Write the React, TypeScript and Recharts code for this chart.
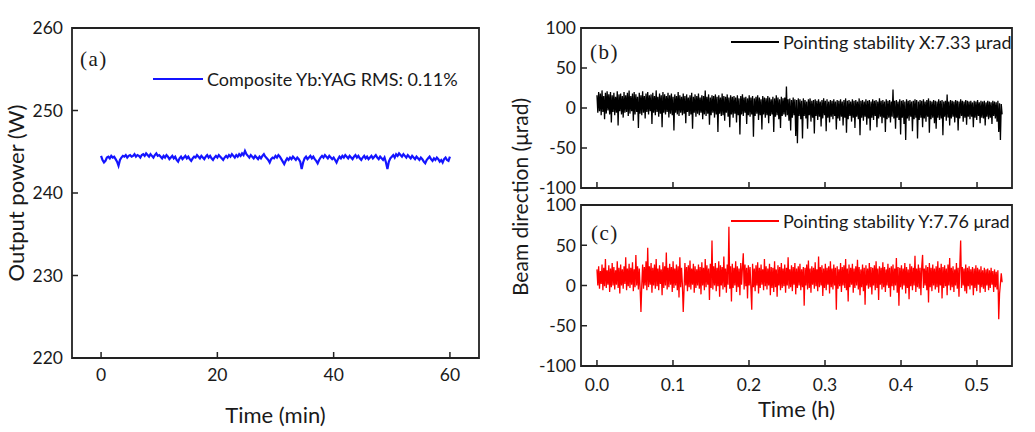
import React from 'react';
import { LineChart, Line, XAxis, YAxis, ReferenceArea, Legend } from 'recharts';

// ---------- data ----------
const POWER_STEP_MIN = 0.25;
const powerW = [
  244.5, 244.0, 243.7, 243.9, 244.3, 244.4, 244.2, 244.5, 244.3, 244.4, 244.1, 243.8, 243.3, 244.0, 244.3, 244.5, 244.4, 244.6, 244.3, 244.5,
  244.6, 244.4, 244.5, 244.7, 244.4, 244.6, 244.5, 244.3, 244.6, 244.7, 244.5, 244.8, 244.6, 244.4, 244.7, 244.5, 244.3, 244.6, 244.8, 244.5,
  244.6, 244.4, 244.2, 244.5, 244.3, 244.6, 244.4, 244.1, 244.3, 244.5, 244.2, 244.4, 244.0, 243.8, 244.2, 244.4, 244.1, 244.3, 244.5, 244.2,
  244.4, 244.1, 243.9, 244.2, 244.4, 244.3, 244.6, 244.4, 244.2, 244.5, 244.3, 244.1, 244.4, 244.6, 244.3, 244.5, 244.2, 244.0, 244.3, 244.5,
  244.3, 244.6, 244.4, 244.2, 244.0, 244.3, 244.5, 244.3, 244.6, 244.4, 244.7, 244.5, 244.3, 244.6, 244.4, 244.7, 244.5, 244.8, 244.6, 245.1,
  244.7, 244.5, 244.3, 244.6, 244.4, 244.2, 244.5, 244.3, 244.1, 244.4, 244.2, 244.5, 244.7, 244.4, 244.2, 244.0, 243.7, 244.1, 244.3, 244.2,
  244.5, 244.3, 244.6, 244.4, 244.1, 243.8, 243.5, 243.9, 244.2, 244.0, 244.3, 244.1, 244.4, 244.2, 244.0, 244.3, 244.1, 243.8, 242.9, 243.7,
  244.2, 244.4, 244.1, 244.3, 244.5, 244.2, 244.4, 244.1, 243.9, 243.6, 244.0, 244.3, 244.5, 244.3, 244.6, 244.4, 244.2, 244.5, 244.3, 244.1,
  244.3, 244.0, 243.7, 244.1, 244.4, 244.2, 244.5, 244.3, 244.6, 244.4, 244.2, 244.5, 244.3, 244.1, 244.4, 244.6, 244.3, 244.5, 244.2, 244.0,
  244.3, 244.5, 244.2, 244.4, 244.1, 244.3, 244.5, 244.2, 244.4, 244.6, 244.3, 244.1, 244.4, 244.2, 244.0, 244.3, 243.7, 242.9, 243.8, 244.2,
  244.4, 244.6, 244.3, 244.7, 244.5, 244.8, 244.6, 244.4, 244.7, 244.5, 244.3, 244.6, 244.4, 244.2, 244.5, 244.3, 244.1, 244.4, 244.2, 244.0,
  244.3, 244.1, 243.8, 243.6, 244.0, 244.2, 244.4, 244.1, 243.9, 244.2, 244.0, 244.3, 244.1, 243.8, 244.0, 243.7, 244.1, 244.3, 244.0, 243.9,
  244.4,
];

const DIR_STEP_H = 0.0011127;
const pointingX = [
  16, -6, 20, -4, 18, -9, 22, -5, 15, -14, 19, -7, 21, -3, 17, -8, 20, -18, 16, -5,
  19, -9, 14, -6, 21, -22, 17, -4, 18, -8, 15, -12, 20, -6, 16, -5, 19, -10, 22, -7,
  15, -4, 18, -16, 20, -8, 17, -5, 14, -25, 19, -7, 16, -9, 21, -6, 15, -13, 18, -5,
  20, -8, 16, -4, 17, -20, 19, -6, 15, -9, 22, -5, 14, -11, 18, -7, 16, -24, 20, -6,
  17, -8, 15, -5, 19, -12, 16, -7, 18, -9, 14, -28, 17, -6, 15, -8, 20, -10, 16, -6,
  14, -9, 18, -7, 15, -19, 17, -5, 13, -10, 16, -8, 19, -26, 14, -6, 17, -11, 15, -7,
  18, -9, 13, -6, 16, -14, 15, -8, 22, -10, 14, -7, 17, -21, 13, -9, 16, -6, 15, -12,
  17, -8, 14, -30, 16, -7, 13, -10, 18, -9, 15, -16, 14, -6, 17, -11, 13, -24, 16, -8,
  14, -12, 15, -7, 13, -18, 16, -9, 12, -33, 15, -8, 17, -10, 13, -6, 14, -20, 12, -9,
  16, -11, 13, -8, 15, -36, 12, -10, 14, -7, 16, -15, 13, -9, 11, -27, 15, -8, 13, -12,
  12, -9, 15, -19, 13, -10, 11, -8, 14, -30, 12, -11, 16, -9, 13, -14, 11, -25, 14, -10,
  12, -8, 13, -11, 27, -9, 11, -16, 12, -28, 10, -12, 13, -9, 11, -35, 10, -44, 12, -10,
  11, -14, 9, -38, 12, -10, 10, -13, 8, -26, 11, -9, 12, -17, 9, -12, 10, -32, 11, -10,
  9, -15, 11, -11, 8, -23, 10, -13, 12, -9, 9, -29, 11, -12, 8, -18, 10, -11, 9, -14,
  11, -10, 8, -27, 10, -13, 9, -16, 11, -11, 8, -22, 10, -12, 12, -31, 9, -14, 10, -10,
  8, -17, 11, -12, 9, -25, 10, -11, 8, -14, 12, -34, 9, -12, 10, -16, 8, -11, 11, -21,
  9, -13, 10, -28, 8, -12, 11, -15, 9, -10, 10, -24, 8, -13, 12, -11, 9, -19, 10, -12,
  8, -30, 11, -14, 9, -12, 10, -18, 8, -11, 23, -13, 9, -26, 10, -12, 8, -15, 11, -33,
  9, -12, 10, -20, 8, -40, 11, -13, 9, -16, 10, -11, 8, -29, 9, -14, 11, -12, 10, -38,
  8, -15, 10, -12, 9, -24, 11, -13, 8, -17, 10, -11, 12, -31, 9, -14, 8, -12, 10, -19,
  9, -26, 8, -12, 11, -15, 9, -13, 10, -34, 8, -11, 9, -16, 17, -12, 8, -22, 10, -13,
  9, -11, 8, -18, 10, -12, 9, -28, 8, -13, 11, -10, 9, -17, 8, -12, 10, -21, 9, -11,
  8, -14, 9, -11, 7, -24, 9, -12, 8, -15, 10, -10, 7, -19, 9, -12, 8, -13, 9, -22,
  7, -11, 9, -14, 8, -12, 7, -20, 9, -10, 8, -13, 7, -17, 9, -30, 6, -40, 5, -8,
];
const pointingY = [
  20, 0, 24, -4, 18, 2, 26, -6, 22, -1, 33, -3, 19, 1, 25, -8, 21, -2, 28, 0,
  23, -5, 19, 1, 30, -3, 22, -10, 26, 0, 20, -4, 24, 2, 35, -6, 21, -1, 27, -3,
  22, 1, 29, -7, 20, -2, 38, 0, 24, -5, 21, -3, -33, 1, 26, -4, 23, 0, 30, -6,
  47, -2, 24, 1, 28, -9, 22, 0, 26, -4, 33, -1, 21, -6, 25, 2, 20, -12, 29, -3,
  24, 0, 41, -5, 22, -2, 27, 1, 23, -8, 30, -3, 21, 0, 26, -6, 24, -15, 35, -2,
  22, 1, -33, -4, 28, 0, 23, -7, 25, -2, 31, -5, 21, 1, 27, -9, 24, -3, 20, 0,
  26, -4, 23, -11, 29, 0, 22, -6, 33, -2, 25, 1, 21, -18, 27, -3, 56, -5, 24, 0,
  28, -7, 22, -1, 30, -14, 25, 0, 23, -5, 36, -2, 21, -9, 26, 1, 73, -4, 24, -20,
  27, -3, 22, 0, 30, -8, 24, -2, 21, -12, 28, 1, 23, 40, -5, 26, -1, 22, -16, 25,
  0, 23, -4, -30, 27, -2, 21, -7, 25, 0, 29, -10, 22, -3, 26, 1, 20, -6, 33, -1,
  24, -5, 21, 0, 27, -12, 23, -3, 22, -8, 30, -2, 20, -14, 25, 0, 23, -6, 28, -3,
  21, -1, 26, -9, 22, 0, 35, -4, 20, -2, 25, -7, 23, 1, 28, -11, 21, -3, 24, 0,
  27, -6, 20, -2, 23, -25, 22, 0, 26, -5, 31, -3, 21, -9, 24, 1, 22, -4, 29, -1,
  20, -7, 36, -2, 23, 0, 25, -13, 21, -3, 27, -6, 22, 1, 24, -10, 30, -2, 21, -5,
  26, 0, 22, -30, 24, -4, 20, -1, 28, -8, 23, 0, 25, -3, 33, -6, 21, -20, 26, -2,
  22, 1, 27, -9, 21, -3, 24, 0, 32, -5, 23, -12, 20, -2, 26, -7, 22, -24, 25, 0,
  21, -4, 28, -2, 23, -11, 22, 0, 25, -6, 30, -3, 21, -18, 24, 1, 22, -5, 29, -2,
  23, -8, 20, 0, 27, -3, 22, -14, 24, -1, 26, -6, 21, 0, 34, -9, 23, -25, 22, -2,
  25, -5, 21, 0, 28, -10, 23, -3, 20, -17, 27, -1, 24, -6, 22, 0, 37, -8, 21, -2,
  26, -4, 22, -12, 24, 38, -3, 21, 0, 25, -6, 23, -21, 28, -2, 22, -7, 26, 0, 21,
  -5, 24, -2, 30, -9, 22, 0, 27, -16, 23, -3, 25, -1, 21, -12, 26, 0, 34, -6, 22,
  -2, 24, -8, 20, 0, 28, -4, 22, -14, 25, 56, -3, 23, 0, 21, -7, 26, -10, 22, -1,
  24, -5, 20, 0, 23, -12, 21, -3, 25, -7, 22, 1, 20, -9, 24, -2, 19, -4, 22, -8,
  20, 0, 21, -6, 19, -3, 22, 1, 18, -8, 20, -2, 17, -5, 19, -42, -10, 2, 15, 4,
];

const powerTicksX = [0, 20, 40, 60];
const powerTicksY = [220, 230, 240, 250, 260];
const dirTicksX = [0, 0.1, 0.2, 0.3, 0.4, 0.5];
const dirTicksY = [-100, -50, 0, 50, 100];

const powerDomainX: [number, number] = [-5, 65];
const powerDomainY: [number, number] = [220, 260];
const dirDomainX: [number, number] = [-0.021, 0.546];
const dirDomainY: [number, number] = [-100, 100];

const powerData = powerW.map((v, i) => ({ t: i * POWER_STEP_MIN, p: v }));
const xData = pointingX.map((v, i) => ({ t: i * DIR_STEP_H, v }));
const yData = pointingY.map((v, i) => ({ t: i * DIR_STEP_H, v }));

// ---------- styles ----------
const FONT = 'Lato, "Open Sans", sans-serif';
const SERIF = '"Liberation Serif", "DejaVu Serif", serif';
const TEXT = '#1a1a1a';
const AXIS = '#222';
const TICK_FS = 17.5;
const TICK_LEN = 6;
const BLUE = '#1414ff';
const BLACK = '#000000';
const RED = '#ff0000';

const LeftTick = (props: any) => {
  const { x, y, payload, gap } = props;
  return (
    <g>
      <line x1={x} y1={y} x2={x + TICK_LEN} y2={y} stroke={AXIS} strokeWidth={1.5} />
      <text x={x - gap} y={y + 6.3} textAnchor="end" fontFamily={FONT} fontSize={TICK_FS} fill={TEXT}>
        {payload.value}
      </text>
    </g>
  );
};

const BottomTick = (props: any) => {
  const { x, y, payload, dy, fmt, showLabel } = props;
  return (
    <g>
      <line x1={x} y1={y} x2={x} y2={y - TICK_LEN} stroke={AXIS} strokeWidth={1.5} />
      {showLabel && (
        <text x={x} y={y + dy} textAnchor="middle" fontFamily={FONT} fontSize={TICK_FS} fill={TEXT}>
          {fmt ? fmt(payload.value) : payload.value}
        </text>
      )}
    </g>
  );
};

const XTitle = (props: any) => {
  const { viewBox, value, dy } = props;
  const cx = viewBox.x + viewBox.width / 2;
  return (
    <text x={cx} y={viewBox.y + dy} textAnchor="middle" fontFamily={FONT} fontSize={22} fill={TEXT}>
      {value}
    </text>
  );
};

const YTitle = (props: any) => {
  const { viewBox, value, dx } = props;
  const cx = viewBox.x + dx;
  const cy = viewBox.y + viewBox.height / 2;
  return (
    <text transform={`translate(${cx},${cy}) rotate(-90)`} textAnchor="middle" dy={7.5} fontFamily={FONT} fontSize={22} fill={TEXT}>
      {value}
    </text>
  );
};

const LegendBox = (props: any) => {
  const item = props.payload && props.payload[0];
  if (!item) return null;
  const w = props.lineW;
  return (
    <div style={{ display: 'flex', alignItems: 'center', whiteSpace: 'nowrap', lineHeight: '20px', height: 20 }}>
      <svg width={w} height={4} style={{ marginRight: 4, display: 'block' }}>
        <line x1={0} y1={2} x2={w} y2={2} stroke={props.swatch} strokeWidth={1.8} />
      </svg>
      <span style={{ fontFamily: FONT, fontSize: 18, color: TEXT }}>{item.value}</span>
    </div>
  );
};

const Letter = ({ text, left, top }: { text: string; left: number; top: number }) => (
  <div style={{ position: 'absolute', left, top, fontFamily: SERIF, fontSize: 21, lineHeight: '20px', letterSpacing: 1.5, color: TEXT }}>
    {text}
  </div>
);

const fmt1 = (v: number) => v.toFixed(1);

export default function App() {
  return (
    <div style={{ position: 'absolute', left: 0, top: 0, width: 1035, height: 432, background: '#fff', overflow: 'hidden' }}>
      {/* (a) */}
      <div style={{ position: 'absolute', left: 0, top: 0 }}>
        <LineChart width={500} height={432} data={powerData} margin={{ top: 28, right: 21, bottom: 0, left: 0 }}>
          <XAxis
            dataKey="t"
            type="number"
            domain={powerDomainX}
            ticks={powerTicksX}
            height={74}
            tickSize={0}
            tickMargin={0}
            axisLine={false}
            tickLine={false}
            tick={<BottomTick dy={23} showLabel />}
            label={<XTitle value="Time (min)" dy={65} />}
            allowDataOverflow
          />
          <YAxis
            type="number"
            domain={powerDomainY}
            ticks={powerTicksY}
            width={72}
            tickSize={0}
            tickMargin={0}
            axisLine={false}
            tickLine={false}
            tick={<LeftTick gap={9} />}
            label={<YTitle value="Output power (W)" dx={16} />}
            allowDataOverflow
          />
          <ReferenceArea x1={powerDomainX[0]} x2={powerDomainX[1]} y1={powerDomainY[0]} y2={powerDomainY[1]} fill="none" stroke={AXIS} strokeWidth={1.8} ifOverflow="visible" />
          <Legend
            layout="horizontal"
            verticalAlign="middle"
            align="center"
            content={<LegendBox lineW={50} swatch={BLUE} />}
            wrapperStyle={{ left: 153, top: 69, width: 'auto' }}
          />
          <Line dataKey="p" name="Composite Yb:YAG RMS: 0.11%" stroke={BLUE} strokeWidth={2.2} dot={false} isAnimationActive={false} type="linear" />
        </LineChart>
      </div>

      {/* (b) */}
      <div style={{ position: 'absolute', left: 500, top: 0 }}>
        <LineChart width={535} height={200} data={xData} margin={{ top: 28, right: 23, bottom: 0, left: 0 }}>
          <XAxis
            dataKey="t"
            type="number"
            domain={dirDomainX}
            ticks={dirTicksX}
            height={12}
            tickSize={0}
            tickMargin={0}
            axisLine={false}
            tickLine={false}
            tick={<BottomTick dy={25} showLabel={false} />}
            allowDataOverflow
          />
          <YAxis
            type="number"
            domain={dirDomainY}
            ticks={dirTicksY}
            width={81}
            tickSize={0}
            tickMargin={0}
            axisLine={false}
            tickLine={false}
            tick={<LeftTick gap={5} />}
            allowDataOverflow
          />
          <ReferenceArea x1={dirDomainX[0]} x2={dirDomainX[1]} y1={dirDomainY[0]} y2={dirDomainY[1]} fill="none" stroke={AXIS} strokeWidth={1.8} ifOverflow="visible" />
          <Legend
            layout="horizontal"
            verticalAlign="middle"
            align="center"
            content={<LegendBox lineW={48} swatch={BLACK} />}
            wrapperStyle={{ left: 231, top: 32, width: 'auto' }}
          />
          <Line dataKey="v" name="Pointing stability X:7.33 μrad" stroke={BLACK} strokeWidth={1.3} dot={false} isAnimationActive={false} type="linear" />
        </LineChart>
      </div>

      {/* (c) */}
      <div style={{ position: 'absolute', left: 500, top: 190 }}>
        <LineChart width={535} height={242} data={yData} margin={{ top: 15, right: 23, bottom: 0, left: 0 }}>
          <XAxis
            dataKey="t"
            type="number"
            domain={dirDomainX}
            ticks={dirTicksX}
            height={66}
            tickSize={0}
            tickMargin={0}
            axisLine={false}
            tickLine={false}
            tick={<BottomTick dy={25} showLabel fmt={fmt1} />}
            label={<XTitle value="Time (h)" dy={51} />}
            allowDataOverflow
          />
          <YAxis
            type="number"
            domain={dirDomainY}
            ticks={dirTicksY}
            width={81}
            tickSize={0}
            tickMargin={0}
            axisLine={false}
            tickLine={false}
            tick={<LeftTick gap={5} />}
            allowDataOverflow
          />
          <ReferenceArea x1={dirDomainX[0]} x2={dirDomainX[1]} y1={dirDomainY[0]} y2={dirDomainY[1]} fill="none" stroke={AXIS} strokeWidth={1.8} ifOverflow="visible" />
          <Legend
            layout="horizontal"
            verticalAlign="middle"
            align="center"
            content={<LegendBox lineW={48} swatch={RED} />}
            wrapperStyle={{ left: 231, top: 21, width: 'auto' }}
          />
          <Line dataKey="v" name="Pointing stability Y:7.76 μrad" stroke={RED} strokeWidth={1.3} dot={false} isAnimationActive={false} type="linear" />
        </LineChart>
      </div>

      {/* shared y title for (b)/(c) */}
      <svg style={{ position: 'absolute', left: 500, top: 60 }} width={40} height={280}>
        <text transform="translate(21,137) rotate(-90)" textAnchor="middle" dy={7} fontFamily={FONT} fontSize={21} fill={TEXT}>
          Beam direction (μrad)
        </text>
      </svg>

      <Letter text="(a)" left={80} top={49} />
      <Letter text="(b)" left={590} top={42} />
      <Letter text="(c)" left={591} top={223} />
    </div>
  );
}
